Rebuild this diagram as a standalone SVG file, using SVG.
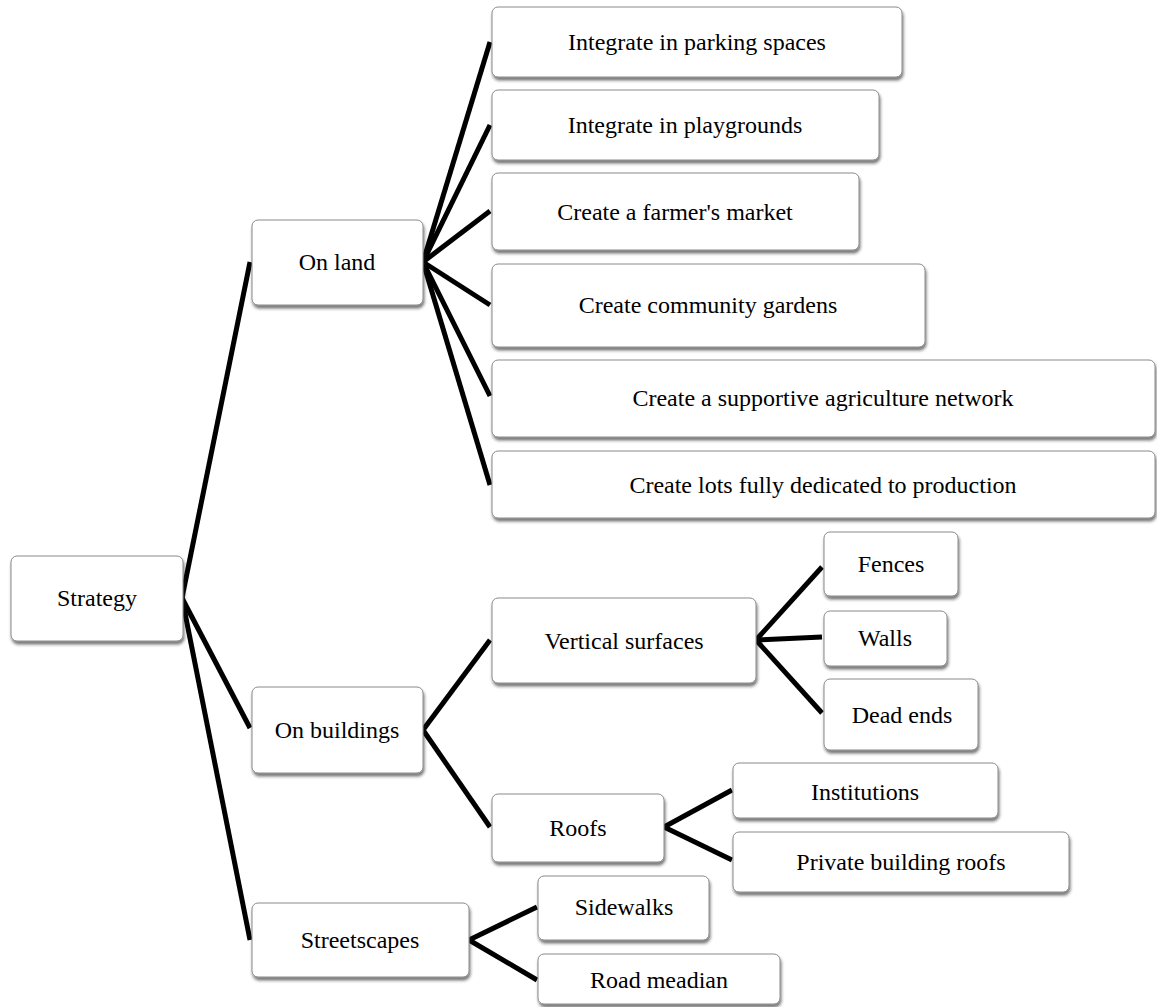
<svg xmlns="http://www.w3.org/2000/svg" width="1157" height="1007" viewBox="0 0 1157 1007">
  <defs>
    <filter id="shadow" x="-10%" y="-10%" width="130%" height="140%">
      <feDropShadow dx="1" dy="3" stdDeviation="1.6" flood-color="#222" flood-opacity="0.6"/>
    </filter>
  </defs>
  <style>
    .box { fill: #fff; stroke: #8a8a8a; stroke-width: 1; filter: url(#shadow); }
    .lbl { font-family: "Liberation Serif", "Times New Roman", serif; font-size: 24px; fill: #000; text-anchor: middle; }
    .link { stroke: #000; stroke-width: 5; fill: none; stroke-linecap: butt; }
  </style>
  <rect width="1157" height="1007" fill="#fff"/>

  <!-- connectors -->
  <g id="connectors" class="link">
    <line x1="182" y1="598" x2="250" y2="262"/>
    <line x1="182" y1="598" x2="250" y2="728"/>
    <line x1="182" y1="598" x2="250" y2="940"/>
    <line x1="423" y1="262" x2="490" y2="42"/>
    <line x1="423" y1="262" x2="490" y2="125"/>
    <line x1="423" y1="262" x2="490" y2="211"/>
    <line x1="423" y1="262" x2="490" y2="305"/>
    <line x1="423" y1="262" x2="490" y2="396"/>
    <line x1="423" y1="262" x2="490" y2="485"/>
    <line x1="423" y1="730" x2="490" y2="640"/>
    <line x1="423" y1="730" x2="490" y2="827"/>
    <line x1="756" y1="640" x2="822" y2="567"/>
    <line x1="756" y1="640" x2="822" y2="637"/>
    <line x1="756" y1="640" x2="822" y2="713"/>
    <line x1="664" y1="827" x2="732" y2="790"/>
    <line x1="664" y1="827" x2="732" y2="860"/>
    <line x1="469" y1="940" x2="537" y2="907"/>
    <line x1="469" y1="940" x2="537" y2="980"/>
  </g>

  <!-- nodes -->
  <g id="strategy"><rect class="box" x="11" y="556" width="172" height="85" rx="6"/><text class="lbl" x="97" y="606">Strategy</text></g>
  <g id="on-land"><rect class="box" x="252" y="220" width="171" height="85" rx="6"/><text class="lbl" x="337" y="270">On land</text></g>
  <g id="on-buildings"><rect class="box" x="252" y="687" width="171" height="86" rx="6"/><text class="lbl" x="337" y="738">On buildings</text></g>
  <g id="streetscapes"><rect class="box" x="252" y="903" width="217" height="74" rx="6"/><text class="lbl" x="360" y="948">Streetscapes</text></g>

  <g id="parking"><rect class="box" x="492" y="7" width="410" height="70" rx="6"/><text class="lbl" x="697" y="50">Integrate in parking spaces</text></g>
  <g id="playgrounds"><rect class="box" x="492" y="90" width="387" height="70" rx="6"/><text class="lbl" x="685" y="133">Integrate in playgrounds</text></g>
  <g id="farmers-market"><rect class="box" x="492" y="173" width="367" height="77" rx="6"/><text class="lbl" x="675" y="220">Create a farmer's market</text></g>
  <g id="community-gardens"><rect class="box" x="492" y="264" width="433" height="83" rx="6"/><text class="lbl" x="708" y="313">Create community gardens</text></g>
  <g id="supportive-network"><rect class="box" x="492" y="360" width="663" height="77" rx="6"/><text class="lbl" x="823" y="406">Create a supportive agriculture network</text></g>
  <g id="production-lots"><rect class="box" x="492" y="451" width="663" height="67" rx="6"/><text class="lbl" x="823" y="493">Create lots fully dedicated to production</text></g>

  <g id="vertical-surfaces"><rect class="box" x="492" y="598" width="264" height="85" rx="6"/><text class="lbl" x="624" y="649">Vertical surfaces</text></g>
  <g id="roofs"><rect class="box" x="492" y="794" width="172" height="68" rx="6"/><text class="lbl" x="578" y="836">Roofs</text></g>

  <g id="fences"><rect class="box" x="824" y="532" width="134" height="64" rx="6"/><text class="lbl" x="891" y="572">Fences</text></g>
  <g id="walls"><rect class="box" x="824" y="611" width="123" height="55" rx="6"/><text class="lbl" x="885" y="646">Walls</text></g>
  <g id="dead-ends"><rect class="box" x="824" y="679" width="154" height="71" rx="6"/><text class="lbl" x="902" y="723">Dead ends</text></g>

  <g id="institutions"><rect class="box" x="733" y="763" width="265" height="55" rx="6"/><text class="lbl" x="865" y="800">Institutions</text></g>
  <g id="private-roofs"><rect class="box" x="733" y="832" width="336" height="60" rx="6"/><text class="lbl" x="901" y="870">Private building roofs</text></g>

  <g id="sidewalks"><rect class="box" x="538" y="876" width="171" height="64" rx="6"/><text class="lbl" x="624" y="915">Sidewalks</text></g>
  <g id="road-median"><rect class="box" x="538" y="954" width="242" height="50" rx="6"/><text class="lbl" x="659" y="988">Road meadian</text></g>
</svg>
